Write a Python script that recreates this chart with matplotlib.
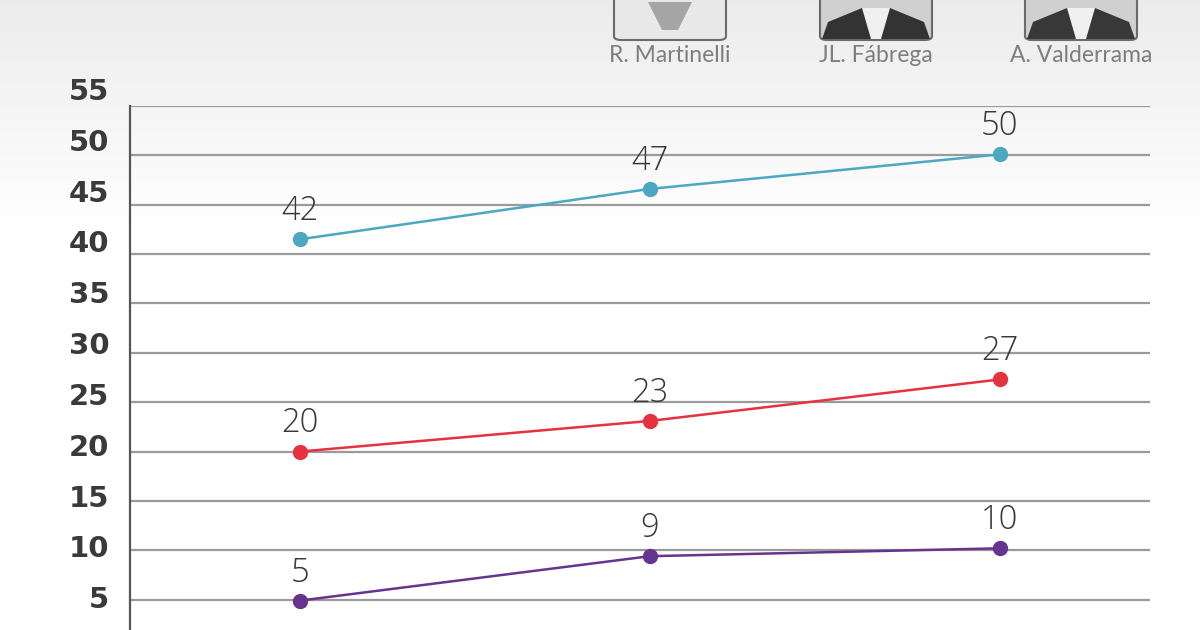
import numpy as np
import matplotlib
matplotlib.use("Agg")
import matplotlib.pyplot as plt
from matplotlib.patches import FancyBboxPatch, Polygon

# ---- data ----
positions = [0, 1, 2]
series_cyan = [41.5, 46.6, 50.1]
series_red = [20.0, 23.1, 27.3]
series_purple = [4.9, 9.4, 10.2]
labels_cyan = ["42", "47", "50"]
labels_red = ["20", "23", "27"]
labels_purple = ["5", "9", "10"]
yticks = [5, 10, 15, 20, 25, 30, 35, 40, 45, 50, 55]
names = ["R. Martinelli", "JL. Fábrega", "A. Valderrama"]

W, H = 1200, 630
fig = plt.figure(figsize=(W / 100, H / 100), dpi=100)

# background gradient
bg = fig.add_axes([0, 0, 1, 1], zorder=-10)
grad = np.linspace(0, 1, 256).reshape(-1, 1)
grad = np.clip(grad * 2.8, 0, 1)
col_top = np.array([0.925, 0.925, 0.925])
col_bot = np.array([1.0, 1.0, 1.0])
img = col_top[None, None, :] * (1 - grad[:, :, None]) + col_bot[None, None, :] * grad[:, :, None]
bg.imshow(img, aspect="auto", extent=[0, 1, 0, 1], origin="upper")
bg.set_axis_off()

# photo placeholders + names
centers = [670, 876, 1081]
fills = ["#e8e8e8", "#d0d0d0", "#d0d0d0"]
suits = [None, "#333333", "#383838"]
for cx, name, fc, sc in zip(centers, names, fills, suits):
    x0 = (cx - 56) / W
    y0 = (H - 40) / H
    box = FancyBboxPatch((x0, y0), 112 / W, 60 / H,
                         boxstyle="round,pad=0,rounding_size=0.006",
                         transform=fig.transFigure, facecolor=fc, edgecolor="#6a6a6a",
                         linewidth=1.5, zorder=2)
    fig.add_artist(box)
    if sc is not None:
        poly = Polygon([((cx - 54) / W, (H - 39) / H), ((cx - 48) / W, (H - 22) / H),
                        ((cx - 14) / W, (H - 8) / H), ((cx + 14) / W, (H - 8) / H),
                        ((cx + 48) / W, (H - 22) / H), ((cx + 54) / W, (H - 39) / H)],
                       closed=True, transform=fig.transFigure, facecolor=sc,
                       edgecolor="none", zorder=3)
        fig.add_artist(poly)
        shirt = Polygon([((cx - 14) / W, (H - 8) / H), ((cx + 14) / W, (H - 8) / H),
                         ((cx + 5) / W, (H - 39) / H), ((cx - 5) / W, (H - 39) / H)],
                        closed=True, transform=fig.transFigure, facecolor="#f0f0f0",
                        edgecolor="none", zorder=4)
        fig.add_artist(shirt)
    else:
        neck = Polygon([((cx - 22) / W, (H - 2) / H), ((cx + 22) / W, (H - 2) / H),
                        ((cx + 8) / W, (H - 30) / H), ((cx - 8) / W, (H - 30) / H)],
                       closed=True, transform=fig.transFigure, facecolor="#a5a5a5",
                       edgecolor="none", zorder=3)
        fig.add_artist(neck)
    fig.text(cx / W, (H - 56) / H, name, ha="center", va="center",
             fontsize=16.5, color="#7e7e7e", family="Lato", fontweight="normal")

# main axes: y=0 at pixel 649 (below the figure), y=55 at pixel 106
ax = fig.add_axes([130 / W, (H - 649) / H, 1020 / W, 543 / H])
ax.set_facecolor("none")
ax.set_ylim(0, 55)
ax.set_xlim(-0.486, 2.43)

for y in yticks:
    ax.axhline(y, color="#9a9a9a", linewidth=1.6, zorder=1)

for s in ["top", "right", "bottom"]:
    ax.spines[s].set_visible(False)
ax.spines["left"].set_color("#555555")
ax.spines["left"].set_linewidth(1.6)
ax.set_xticks([])
ax.set_yticks([])

# tick-label scale (slightly stretched vs. the gridlines, as in the reference)
axl = fig.add_axes([130 / W, (H - 648) / H, 1020 / W, 559 / H], zorder=-1)
axl.set_facecolor("none")
axl.set_ylim(0, 55)
for s in axl.spines.values():
    s.set_visible(False)
axl.set_xticks([])
axl.set_yticks(yticks)
axl.set_yticklabels([str(v) for v in yticks])
axl.tick_params(axis="y", length=0, pad=15, labelsize=21, labelcolor="#3a3a3a")
for t in axl.get_yticklabels():
    t.set_fontweight("bold")
    t.set_family("DejaVu Sans")

series = [(series_cyan, labels_cyan, "#4aa8c1"),
          (series_red, labels_red, "#e5323e"),
          (series_purple, labels_purple, "#66338f")]
for vals, labs, col in series:
    ax.plot(positions, vals, color=col, linewidth=1.8, marker="o", markersize=10,
            zorder=5, clip_on=False)
    for x, v, lab in zip(positions, vals, labs):
        ax.annotate(lab, (x, v), xytext=(0, 8), textcoords="offset points",
                    ha="center", va="bottom", fontsize=23.5, color="#383838",
                    family="Open Sans", fontweight="light", zorder=6)

fig.savefig("out.png", dpi=100)
